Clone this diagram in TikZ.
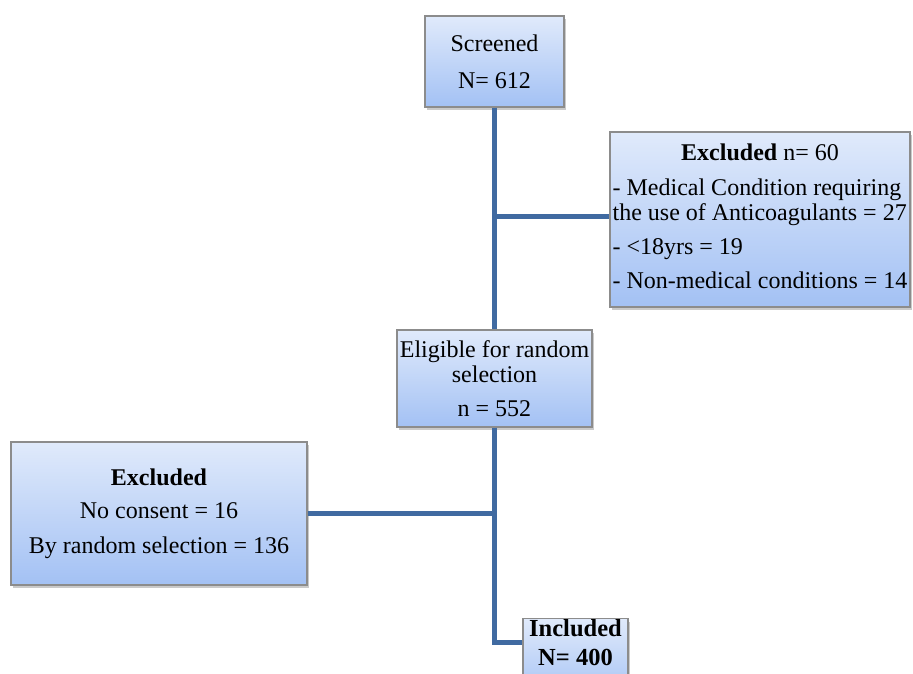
\documentclass[tikz,border=0pt]{standalone}
\usepackage{fontspec}
\setmainfont{Liberation Serif}
\usetikzlibrary{shadows}
\definecolor{lineblue}{RGB}{64,106,161}
\definecolor{boxtop}{RGB}{224,234,251}
\definecolor{boxbot}{RGB}{163,193,244}
\definecolor{boxedge}{RGB}{140,140,140}
\tikzset{
  flowbox/.style={draw=boxedge, line width=1.1pt, top color=boxtop, bottom color=boxbot,
    inner xsep=2pt, inner ysep=0pt, align=center,
    font=\fontsize{24pt}{25pt}\selectfont,
    drop shadow={shadow xshift=2pt, shadow yshift=-3pt, opacity=0.35, fill=black!60}},
  conn/.style={draw=lineblue, line width=5pt}
}
\begin{document}
\begin{tikzpicture}[x=1pt,y=1pt]
\useasboundingbox (0,0) rectangle (913,673);
% junctions
\coordinate (jR) at (494.5,456);
\coordinate (jL) at (494.5,160);
\coordinate (jI) at (494.5,31);
% boxes
\node[flowbox, minimum width=139pt, minimum height=91pt] (scr) at (494.5,611.5)
  {Screened\\[12pt]N= 612};
\node[flowbox, minimum width=300pt, minimum height=175pt] (exR) at (760,453.5)
  {\begin{tabular}{@{}l@{}}
   \multicolumn{1}{@{}c@{}}{\textbf{Excluded} n= 60}\\[10pt]
   - Medical Condition requiring\\
   the use of Anticoagulants = 27\\[9pt]
   - <18yrs = 19\\[9pt]
   - Non-medical conditions = 14
   \end{tabular}};
\node[flowbox, minimum width=195pt, minimum height=97pt] (elig) at (494.5,294.5)
  {Eligible for random\\selection\\[9pt]n = 552};
\node[flowbox, minimum width=296pt, minimum height=143pt] (exL) at (159,159.5)
  {\textbf{Excluded}\\[8pt]No consent = 16\\[10pt]By random selection = 136};
\node[flowbox, minimum width=105pt, minimum height=82pt, anchor=north] (inc) at (575.5,55) {};
\node[align=center, inner sep=0pt, anchor=north, font=\fontsize{24.5pt}{28.5pt}\selectfont\bfseries] (incText) at (575.5,53.5)
  {Included\\N= 400};
% connectors
\draw[conn] (scr.south) -- (elig.north);
\draw[conn] (jR) -- (exR.west |- jR);
\draw[conn] (elig.south) -- (jI) -- (inc.west |- jI);
\draw[conn] (jL) -- (exL.east |- jL);
\end{tikzpicture}
\end{document}
